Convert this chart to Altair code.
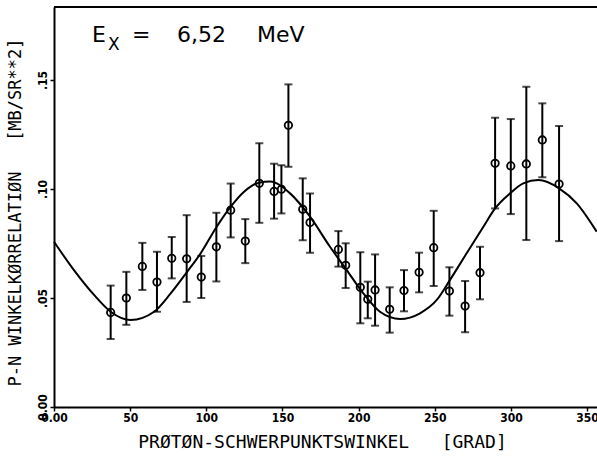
import altair as alt
import pandas as pd

# ---- data ----
angle = [37.2, 47.5, 58.0, 67.6, 77.3, 87.1, 96.7, 106.6, 116.0, 125.6, 134.8,
         144.5, 149.3, 153.9, 163.3, 168.1, 186.7, 191.5, 201.1, 206.0, 210.8,
         220.4, 229.8, 239.7, 249.3, 259.6, 269.9, 279.7, 289.6, 299.9, 310.1,
         320.6, 331.6]
value = [0.0434, 0.0500, 0.0645, 0.0573, 0.0682, 0.0680, 0.0596, 0.0735, 0.0903,
         0.0761, 0.1026, 0.0989, 0.0999, 0.1292, 0.0907, 0.0846, 0.0723, 0.0650,
         0.0549, 0.0494, 0.0537, 0.0448, 0.0534, 0.0618, 0.0731, 0.0532, 0.0463,
         0.0616, 0.1118, 0.1106, 0.1115, 0.1225, 0.1023]
err_low = [0.0312, 0.0377, 0.0537, 0.0437, 0.0590, 0.0482, 0.0500, 0.0576, 0.0778,
           0.0660, 0.0845, 0.0864, 0.0888, 0.1102, 0.0765, 0.0708, 0.0644, 0.0546,
           0.0384, 0.0407, 0.0373, 0.0341, 0.0439, 0.0526, 0.0555, 0.0419, 0.0343,
           0.0494, 0.0911, 0.0885, 0.0766, 0.1054, 0.0761]
err_high = [0.0557, 0.0620, 0.0753, 0.0712, 0.0780, 0.0880, 0.0693, 0.0891, 0.1025,
            0.0862, 0.1210, 0.1116, 0.1109, 0.1480, 0.1049, 0.0980, 0.0807, 0.0751,
            0.0710, 0.0575, 0.0700, 0.0549, 0.0628, 0.0708, 0.0900, 0.0641, 0.0578,
            0.0735, 0.1327, 0.1321, 0.1469, 0.1393, 0.1289]

curve_angle = [0, 13.1, 26.3, 37.2, 50.3, 65.7, 76.6, 87.5, 96.3, 106.2, 116.0,
               124.8, 134.6, 141.8, 155.0, 168.1, 181.2, 192.2, 203.1, 214.0,
               227.2, 240.3, 251.3, 260.0, 270.9, 281.9, 289.6, 299.4, 308.1,
               318.0, 331.6, 343.2, 356.3]
curve_value = [0.0758, 0.0628, 0.0514, 0.0437, 0.0399, 0.0437, 0.0521, 0.0621,
               0.0705, 0.0820, 0.0919, 0.0988, 0.1029, 0.1034, 0.0980, 0.0873,
               0.0735, 0.0628, 0.0521, 0.0437, 0.0404, 0.0430, 0.0491, 0.0583,
               0.0705, 0.0827, 0.0911, 0.0980, 0.1026, 0.1041, 0.1003, 0.0934,
               0.0804]

x_ticks = [0, 50, 100, 150, 200, 250, 300, 350]
y_ticks = [0.0, 0.05, 0.10, 0.15]

NB = "\u00a0"
x_title = "PRØTØN-SCHWERPUNKTSWINKEL" + NB * 3 + "[GRAD]"
y_title = "P-N" + NB + "WINKELKØRRELATIØN" + NB * 3 + "[MB/SR**2]"

pts = pd.DataFrame({"angle": angle, "value": value, "low": err_low, "high": err_high})
curve = pd.DataFrame({"angle": curve_angle, "value": curve_value})

W, H = 543, 400
TITLE_FONT = "DejaVu Sans Mono"
LABEL_FONT = "DejaVu Sans Condensed, DejaVu Sans"

xscale = alt.Scale(domain=[0, 356.5], nice=False, zero=False)
yscale = alt.Scale(domain=[0, 0.1835], nice=False)

x_axis = alt.Axis(
    values=x_ticks, title=x_title, labelFlush=False,
    labelExpr="datum.value == 0 ? '0.00' : format(datum.value, 'd')",
    titleX=268, titleY=35, titleBaseline="middle", titleAnchor="start", titleAlign="center",
    titleFontSize=18,
)
y_axis = alt.Axis(
    values=y_ticks, title=y_title, labelAngle=270,
    labelExpr="datum.value == 0 ? '0.00' : replace(format(datum.value, '.2f'), '0.', '.')",
    titleX=-39, titleY=205, titleAngle=270, titleBaseline="middle", titleAlign="center",
    titleAnchor="start", titleFontSize=17,
)

x_enc = alt.X("angle:Q", scale=xscale, axis=x_axis)
y_enc = alt.Y("value:Q", scale=yscale, axis=y_axis)

line = alt.Chart(curve).mark_line(color="black", strokeWidth=2, interpolate="monotone").encode(
    x=x_enc, y=y_enc)

bars = alt.Chart(pts).mark_rule(color="black", strokeWidth=2).encode(
    x=alt.X("angle:Q", scale=xscale), y=alt.Y("low:Q", scale=yscale), y2="high:Q")
cap_lo = alt.Chart(pts).mark_tick(color="black", orient="horizontal", size=8, thickness=2).encode(
    x=alt.X("angle:Q", scale=xscale), y=alt.Y("low:Q", scale=yscale))
cap_hi = alt.Chart(pts).mark_tick(color="black", orient="horizontal", size=8, thickness=2).encode(
    x=alt.X("angle:Q", scale=xscale), y=alt.Y("high:Q", scale=yscale))
circles = alt.Chart(pts).mark_point(shape="circle", filled=False, color="black", size=55,
                                    strokeWidth=1.8, opacity=1).encode(
    x=alt.X("angle:Q", scale=xscale), y=alt.Y("value:Q", scale=yscale))

top_rule = alt.Chart(alt.Data(values=[{}])).mark_rule(color="black", strokeWidth=2).encode(
    x=alt.value(0), x2=alt.value(W), y=alt.value(0))

dummy = alt.Data(values=[{}])
def txt(s, x, y, size):
    return alt.Chart(dummy).mark_text(text=s, font="DejaVu Sans", fontSize=size, align="left",
                                      baseline="alphabetic", color="black").encode(
        x=alt.value(x), y=alt.value(y))

ann = (txt("E", 38, 35, 22) + txt("X", 54, 43, 17) + txt("=", 78, 35, 22)
       + txt("6,52", 123, 35, 22) + txt("MeV", 203, 35, 22))

chart = alt.layer(line, bars, cap_lo, cap_hi, circles, top_rule, ann).properties(
    width=W, height=H,
    autosize=alt.AutoSizeParams(type="none"),
    padding={"left": 54, "top": 7, "right": 0, "bottom": 57},
    background="white",
).configure_view(stroke=None).configure_axis(
    grid=False, domainColor="black", domainWidth=2, tickColor="black", tickWidth=1.5,
    tickSize=4, labelColor="black", labelFont=LABEL_FONT, labelFontSize=12,
    labelFontWeight="bold", labelPadding=1,
    titleColor="black", titleFont=TITLE_FONT, titleFontWeight="normal",
)

chart.save("out.html", embed_options={"renderer": "svg", "actions": False})
